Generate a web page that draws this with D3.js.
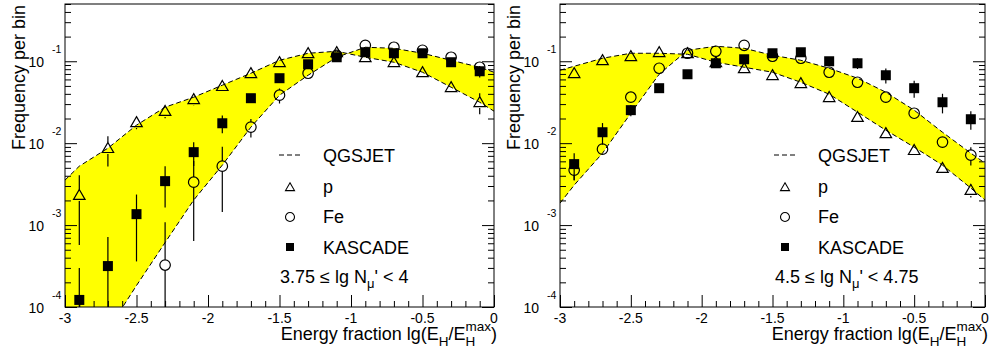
<!DOCTYPE html>
<html>
<head>
<meta charset="utf-8">
<script src="https://cdn.jsdelivr.net/npm/d3@7"></script>
<style>
  body { margin: 0; background: #fff; }
  svg text { font-family: "Liberation Sans", Arial, Helvetica, sans-serif; fill: #000; }
</style>
</head>
<body>
<svg id="chart" width="989" height="351"></svg>
<script>
// Bin centres of the hadronic energy fraction lg(E_H/E_H^max)
const bins = [-2.9, -2.7, -2.5, -2.3, -2.1, -1.9, -1.7, -1.5, -1.3, -1.1, -0.9, -0.7, -0.5, -0.3, -0.1];
// Abscissae of the QGSJET model curves
const curveX = [-3.0, -2.9, -2.7, -2.5, -2.3, -2.1, -1.9, -1.7, -1.5, -1.3, -1.1, -0.9, -0.7, -0.5, -0.3, -0.1, 0.0];

// Muon-number bin 3.75 <= lg N_mu' < 4
const protonLow     = [0.00232, 0.00869, 0.0180, 0.0246, 0.0344, 0.0496, 0.0714, 0.0973, 0.1252, 0.1288, 0.1119, 0.0973, 0.0734, 0.0482, 0.0316];
const protonLowErr  = [0.00175, 0.0035, 0.0032, 0.0045, 0.0053, 0.0075, 0.006, 0.008, 0.010, 0.010, 0.009, 0.009, 0.008, 0.007, 0.009];
const ironLow       = [null, null, null, 0.000325, 0.00334, 0.00524, 0.0157, 0.0385, 0.0714, 0.118, 0.1567, 0.1482, 0.1362, 0.1119, 0.0845];
const ironLowErr    = [null, null, null, 0.00076, 0.0027, 0.0038, 0.004, 0.008, 0.006, 0.008, 0.009, 0.009, 0.009, 0.008, 0.008];
const kascadeLow    = [0.000122, 0.000316, 0.00136, 0.00344, 0.00777, 0.0175, 0.0354, 0.0621, 0.0919, 0.1119, 0.1288, 0.1252, 0.1252, 0.0973, 0.0755];
const kascadeLowErr = [0.000177, 0.0004, 0.001, 0.0018, 0.0025, 0.0043, 0.004, 0.005, 0.006, 0.007, 0.007, 0.007, 0.007, 0.008, 0.012];
const qgsProtonLow  = [0.00354, 0.00524, 0.00869, 0.0166, 0.0275, 0.0364, 0.0510, 0.0714, 0.1028, 0.1252, 0.1324, 0.1119, 0.0973, 0.0734, 0.0482, 0.0316, 0.0246];
const qgsIronLow    = [0.0000092, 0.0000166, 0.0000524, 0.000183, 0.000612, 0.00202, 0.00539, 0.0157, 0.0385, 0.0675, 0.1119, 0.1482, 0.1440, 0.1252, 0.1028, 0.0845, 0.0734];

// Muon-number bin 4.5 <= lg N_mu' < 4.75
const protonHigh     = [0.0714, 0.1028, 0.1151, 0.1288, 0.1252, 0.0973, 0.0821, 0.0675, 0.0539, 0.0364, 0.0208, 0.0132, 0.00821, 0.00496, 0.00267];
const protonHighErr  = [0.004, 0.005, 0.005, 0.005, 0.005, 0.004, 0.004, 0.004, 0.003, 0.002, 0.0015, 0.001, 0.0008, 0.0006, 0.0005];
const ironHigh       = [0.00469, 0.00845, 0.0364, 0.0821, 0.1252, 0.1324, 0.1567, 0.1151, 0.1088, 0.0734, 0.0554, 0.0364, 0.0232, 0.0103, 0.00714];
const ironHighErr    = [0.0012, 0.001, 0.004, 0.006, 0.008, 0.008, 0.008, 0.006, 0.006, 0.004, 0.003, 0.002, 0.0015, 0.0015, 0.0018];
const kascadeHigh    = [0.00555, 0.0136, 0.0253, 0.0469, 0.0694, 0.0945, 0.1058, 0.1252, 0.1288, 0.1000, 0.0945, 0.0675, 0.0469, 0.0316, 0.0196];
const kascadeHighErr = [0.002, 0.004, 0.004, 0.005, 0.006, 0.006, 0.006, 0.007, 0.007, 0.008, 0.014, 0.014, 0.011, 0.0085, 0.005];
const qgsProtonHigh  = [0.0777, 0.0869, 0.1088, 0.1252, 0.1252, 0.1217, 0.0973, 0.0845, 0.0734, 0.0554, 0.0396, 0.0239, 0.0144, 0.00894, 0.00539, 0.00283, 0.00202];
const qgsIronHigh    = [0.00185, 0.00307, 0.00755, 0.0232, 0.0694, 0.1362, 0.1524, 0.1440, 0.1184, 0.1028, 0.0821, 0.0621, 0.0419, 0.0253, 0.0136, 0.00755, 0.00570];

// Axes and labels
const xDomain = [-3, 0];
const yDomain = [1e-4, 0.5];
const xMajorTicks = [-3, -2.5, -2, -1.5, -1, -0.5, 0];
const yDecades = [-4, -3, -2, -1];
const legendLabels = ["QGSJET", "p", "Fe", "KASCADE"];
const yTitle = "Frequency per bin";
const binLabels = [["3.75 \u2264 lg N", "\u03bc", "' < 4"], ["4.5 \u2264 lg N", "\u03bc", "' < 4.75"]];

const panels = [
  { p: protonLow, pErr: protonLowErr, fe: ironLow, feErr: ironLowErr, k: kascadeLow, kErr: kascadeLowErr,
    qP: qgsProtonLow, qFe: qgsIronLow, label: binLabels[0] },
  { p: protonHigh, pErr: protonHighErr, fe: ironHigh, feErr: ironHighErr, k: kascadeHigh, kErr: kascadeHighErr,
    qP: qgsProtonHigh, qFe: qgsIronHigh, label: binLabels[1] }
];

const svg = d3.select("#chart");
const frames = [{ x0: 65, x1: 494 }, { x0: 560, x1: 985 }];
const yTop = 4, yBot = 307;

// Minor ticks: 0.1 steps on x, 2..9 per decade on y
const xMinorTicks = d3.range(-30, 1).map(v => v / 10).filter(v => !xMajorTicks.some(t => Math.abs(t - v) < 1e-9));
const yMajorTicks = yDecades.map(d => Math.pow(10, d));
const yMinorTicks = [];
yDecades.forEach(d => { for (let m = 2; m <= 9; m++) { const v = m * Math.pow(10, d); if (v <= yDomain[1] * 1.0001) yMinorTicks.push(v); } });

const sym = {
  tri: d3.symbol(d3.symbolTriangle),
  circ: d3.symbol(d3.symbolCircle),
  sq: d3.symbol(d3.symbolSquare)
};

function markerPath(kind, w) {
  if (kind === "tri") return sym.tri.size(Math.sqrt(3) / 4 * w * w)();
  if (kind === "circ") return sym.circ.size(Math.PI * (w / 2) * (w / 2))();
  return sym.sq.size(w * w)();
}

panels.forEach((P, i) => {
  const F = frames[i];
  const x = d3.scaleLinear().domain(xDomain).range([F.x0, F.x1]);
  const y = d3.scaleLog().domain(yDomain).range([yBot, yTop]);
  const g = svg.append("g");

  const clipId = "plotclip" + i;
  svg.append("clipPath").attr("id", clipId)
    .append("rect").attr("x", F.x0).attr("y", yTop).attr("width", F.x1 - F.x0).attr("height", yBot - yTop);
  const plot = g.append("g").attr("clip-path", `url(#${clipId})`);

  // QGSJET band between the proton and iron predictions
  const band = curveX.map((cx, k) => ({ x: cx, p: P.qP[k], fe: P.qFe[k] }));
  plot.append("path").datum(band)
    .attr("d", d3.area().x(d => x(d.x)).y0(d => y(d.fe)).y1(d => y(d.p)))
    .attr("fill", "#ffff00");
  ["p", "fe"].forEach(key => {
    plot.append("path").datum(band)
      .attr("d", d3.line().x(d => x(d.x)).y(d => y(d[key])))
      .attr("fill", "none").attr("stroke", "#000").attr("stroke-width", 1)
      .attr("stroke-dasharray", "5,3");
  });

  // Data points with vertical error bars
  const series = [
    { v: P.p, e: P.pErr, kind: "tri", w: 11.5, open: true },
    { v: P.fe, e: P.feErr, kind: "circ", w: 10.5, open: true },
    { v: P.k, e: P.kErr, kind: "sq", w: 10, open: false }
  ];
  series.forEach(s => {
    const pts = bins.map((b, k) => ({ x: b, v: s.v[k], e: s.e[k] })).filter(d => d.v != null);
    const sg = plot.append("g");
    pts.forEach(d => {
      const cx = x(d.x), cy = y(d.v);
      const top = y(d.v + d.e);
      const low = d.v - d.e > yDomain[0] * 0.01 ? y(d.v - d.e) : yBot + 5;
      const gap = s.open ? s.w / 2 : 0;
      if (cy - gap > top) sg.append("line").attr("x1", cx).attr("x2", cx).attr("y1", top).attr("y2", cy - gap)
        .attr("stroke", "#000").attr("stroke-width", 1.2);
      if (low > cy + gap) sg.append("line").attr("x1", cx).attr("x2", cx).attr("y1", cy + gap).attr("y2", low)
        .attr("stroke", "#000").attr("stroke-width", 1.2);
    });
    sg.selectAll("path.m").data(pts).join("path").attr("class", "m")
      .attr("d", markerPath(s.kind, s.w))
      .attr("transform", d => `translate(${x(d.x)},${y(d.v) + (s.kind === "tri" ? 1 : 0)})`)
      .attr("fill", s.open ? "none" : "#000")
      .attr("stroke", "#000").attr("stroke-width", s.open ? 1.2 : 0);
  });

  // Frame
  g.append("rect").attr("x", F.x0).attr("y", yTop).attr("width", F.x1 - F.x0).attr("height", yBot - yTop)
    .attr("fill", "none").attr("stroke", "#000").attr("stroke-width", 1);

  // Ticks (pointing into the frame)
  const axisG = (sel) => sel.call(s => s.select(".domain").remove()).selectAll("line").attr("stroke", "#000");
  g.append("g").attr("transform", `translate(0,${yBot})`)
    .call(d3.axisBottom(x).tickValues(xMajorTicks).tickSizeInner(-12).tickSizeOuter(0).tickFormat(""))
    .call(axisG);
  g.append("g").attr("transform", `translate(0,${yBot})`)
    .call(d3.axisBottom(x).tickValues(xMinorTicks).tickSizeInner(-6).tickSizeOuter(0).tickFormat(""))
    .call(axisG);
  [[d3.axisLeft, F.x0], [d3.axisRight, F.x1]].forEach(([ax, px]) => {
    g.append("g").attr("transform", `translate(${px},0)`)
      .call(ax(y).tickValues(yMajorTicks).tickSizeInner(-12).tickSizeOuter(0).tickFormat(""))
      .call(axisG);
    g.append("g").attr("transform", `translate(${px},0)`)
      .call(ax(y).tickValues(yMinorTicks).tickSizeInner(-6).tickSizeOuter(0).tickFormat(""))
      .call(axisG);
  });

  // Tick labels
  g.selectAll("text.xl").data(xMajorTicks).join("text").attr("class", "xl")
    .attr("x", d => x(d)).attr("y", 322.5).attr("text-anchor", "middle")
    .attr("font-size", 14).text(d => String(d));
  yDecades.forEach(d => {
    const ty = y(Math.pow(10, d));
    g.append("text").attr("x", F.x0 - 21).attr("y", ty + 5.5).attr("text-anchor", "end")
      .attr("font-size", 14).text("10");
    g.append("text").attr("x", F.x0 - 13).attr("y", ty - 8).attr("text-anchor", "start")
      .attr("font-size", 10.5).text(String(d));
  });

  // Axis titles
  g.append("text").attr("transform", `translate(${F.x0 - 40},5) rotate(-90)`)
    .attr("text-anchor", "end").attr("font-size", 18).text(yTitle);

  const tg = g.append("g");
  const base = 340;
  const parts = [
    [{ t: "Energy fraction lg(E", s: 18, dy: 0 }],
    [{ t: "H", s: 13.5, dy: 6 }],
    [{ t: "/E", s: 18, dy: 0 }],
    [{ t: "max", s: 13.5, dy: -9 }, { t: "H", s: 13.5, dy: 6 }],
    [{ t: ")", s: 18, dy: 0 }]
  ];
  let cur = F.x1 + 3;
  for (let k = parts.length - 1; k >= 0; k--) {
    const nodes = parts[k].map(p => tg.append("text").attr("y", base + p.dy).attr("font-size", p.s).text(p.t));
    const wid = d3.max(nodes, n => n.node().getComputedTextLength());
    cur -= wid;
    nodes.forEach(n => n.attr("x", cur));
  }

  // Legend
  const lx = F.x0;
  g.append("line").attr("x1", lx + 214).attr("x2", lx + 237).attr("y1", 155).attr("y2", 155)
    .attr("stroke", "#000").attr("stroke-width", 1).attr("stroke-dasharray", "5,3");
  const legendY = [162, 192.5, 223, 253.5];
  legendLabels.forEach((t, k) => {
    g.append("text").attr("x", lx + 258).attr("y", legendY[k]).attr("font-size", 18).text(t);
  });
  [["tri", true, 187], ["circ", true, 217], ["sq", false, 247]].forEach(([kind, open, ly]) => {
    g.append("path").attr("d", markerPath(kind, kind === "sq" ? 8 : 9))
      .attr("transform", `translate(${lx + 225},${ly + (kind === "tri" ? 1 : 0)})`)
      .attr("fill", open ? "none" : "#000").attr("stroke", "#000").attr("stroke-width", open ? 1.1 : 0);
  });
  const bl = g.append("text").attr("x", lx + 215).attr("y", 283).attr("font-size", 18);
  bl.append("tspan").text(P.label[0]);
  bl.append("tspan").attr("font-size", 13).attr("dy", 5).text(P.label[1]);
  bl.append("tspan").attr("dy", -5).text(P.label[2]);
});
</script>
</body>
</html>
